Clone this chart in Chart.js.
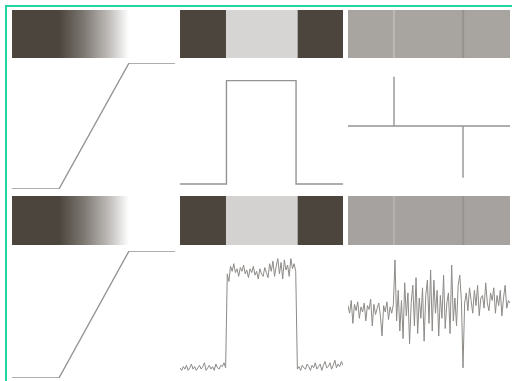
<!DOCTYPE html>
<html>
<head>
<meta charset="UTF-8">
<title>Edge profiles</title>
<style>
  body { margin: 0; width: 512px; height: 381px; background: #fff; position: relative; overflow: hidden; }
  #frame { position: absolute; left: 5px; top: 5px; right: 0; bottom: 0;
           border-top: 2px solid #22d3a3; border-left: 2px solid #22d3a3; }
  canvas { position: absolute; }
</style>
</head>
<body>
<div id="frame"></div>
<script src="https://cdn.jsdelivr.net/npm/chart.js"></script>
<script>
// clean profiles (x in % of panel width)
const rampX = [0, 28.8, 71.8, 100];
const rampY = [0, 0, 100, 100];
const pulseX = [0, 28.5, 28.5, 71.2, 71.2, 100];
const pulseY = [4, 4, 86, 86, 4, 4];
const spikeX = [0, 28.4, 28.4, 28.4, 71, 71, 71, 100];
const spikeY = [0, 0, 39, 0, 0, -41, 0, 0];

// noisy pulse, one value per x unit (0..100)
const noisyPulse = [
  8,6,9,7,10,6,8,11,7,9,6,8,10,7,9,12,6,8,10,7,9,6,11,8,7,10,9,12,8,
  82,76,88,84,90,83,86,80,87,84,89,82,85,79,86,83,88,81,84,78,86,82,80,87,83,79,90,84,92,80,
  88,94,82,91,78,93,85,89,80,94,86,90,84,
  7,9,6,10,8,7,11,9,6,10,8,12,7,9,11,6,10,13,8,9,12,7,10,14,8,11,9,13,10
];
// derivative of the noisy pulse
const noisyDeriv = [
  2,-4,6,-12,3,-2,5,-8,1,-3,4,-10,2,-1,7,-14,3,-5,0,4,-6,-22,2,-3,5,-9,1,-4,3,
  38,-10,14,-18,6,-24,20,-6,12,-28,4,18,-14,24,-20,8,-8,16,-26,10,22,-12,30,-18,22,-4,14,-22,10,-8,
  26,-16,4,12,-20,34,-10,8,-14,18,26,6,-47,
  4,12,-2,16,6,-4,14,2,18,-6,8,10,0,20,4,-2,12,6,16,-4,10,2,14,-6,8,18,0,6,4
];

// image strips as x ranges (first listed is drawn on top)
const stripRamp = [[0, 28.8], [28.8, 71.8], [71.8, 100]];
const stripPulse = [[0, 28], [28, 72], [72, 100]];
const stripDeriv = [[27.9, 28.8], [70.7, 71.5], [0, 100]];

const DARK = '#4b453e';
const LINE = '#969492';

const cols = [[12, 175], [180, 343], [348, 510]];
const rows = [{ strip: [10, 58], plot: [63, 189] }, { strip: [196, 245], plot: [251, 378] }];

function makeCanvas(x, y, w, h) {
  const c = document.createElement('canvas');
  c.width = w; c.height = h;
  c.style.left = x + 'px'; c.style.top = y + 'px';
  document.body.appendChild(c);
  return c;
}

function gradientFill(c) {
  const chart = c.chart;
  if (!chart.chartArea) return DARK;
  const xs = chart.scales.x;
  const g = chart.ctx.createLinearGradient(xs.getPixelForValue(stripRamp[1][0]), 0, xs.getPixelForValue(stripRamp[1][1]), 0);
  g.addColorStop(0, DARK);
  g.addColorStop(0.35, '#7d7771');
  g.addColorStop(0.7, '#bdbab7');
  g.addColorStop(1, '#ffffff');
  return g;
}

function strip(col, row, segs, colors) {
  const [x0, x1] = cols[col];
  const [y0, y1] = rows[row].strip;
  new Chart(makeCanvas(x0, y0, x1 - x0, y1 - y0), {
    type: 'bar',
    data: {
      labels: ['s'],
      datasets: segs.map((s, i) => ({ data: [s], backgroundColor: colors[i], borderWidth: 0 }))
    },
    options: {
      indexAxis: 'y', responsive: false, animation: false,
      datasets: { bar: { barPercentage: 1, categoryPercentage: 1, grouped: false } },
      layout: { padding: 0 },
      plugins: { legend: { display: false }, tooltip: { enabled: false } },
      scales: { x: { display: false, min: 0, max: 100 }, y: { display: false } }
    }
  });
}

function plot(col, row, xs, ys, yMin, yMax, width, color) {
  const [x0, x1] = cols[col];
  const [y0, y1] = rows[row].plot;
  const pad = 2;
  const pts = ys.map((v, i) => ({ x: xs ? xs[i] : i, y: v }));
  new Chart(makeCanvas(x0 - pad, y0 - pad, x1 - x0 + 2 * pad, y1 - y0 + 2 * pad), {
    type: 'line',
    data: { datasets: [{ data: pts, borderColor: color, borderWidth: width, pointRadius: 0, tension: 0 }] },
    options: {
      responsive: false, animation: false,
      layout: { padding: pad },
      plugins: { legend: { display: false }, tooltip: { enabled: false } },
      scales: {
        x: { type: 'linear', display: false, min: 0, max: 100 },
        y: { display: false, min: yMin, max: yMax }
      }
    }
  });
}

// top row: clean signals
strip(0, 0, stripRamp, [DARK, gradientFill, '#ffffff']);
strip(1, 0, stripPulse, [DARK, '#d7d5d3', DARK]);
strip(2, 0, stripDeriv, ['#bbb8b5', '#96928e', '#a8a4a0']);
plot(0, 0, rampX, rampY, 0, 100, 1.4, LINE);
plot(1, 0, pulseX, pulseY, 0, 100, 1.4, LINE);
plot(2, 0, spikeX, spikeY, -50, 50, 1.4, LINE);

// bottom row: noisy signals
strip(0, 1, stripRamp, [DARK, gradientFill, '#ffffff']);
strip(1, 1, stripPulse, [DARK, '#d4d2d0', DARK]);
strip(2, 1, stripDeriv, ['#b4b1ae', '#98948f', '#a5a29f']);
plot(0, 1, rampX, rampY, 0, 100, 1.4, LINE);
plot(1, 1, null, noisyPulse, 0, 100, 1, '#8d8a87');
plot(2, 1, null, noisyDeriv, -55, 45, 1, '#8d8a87');
</script>
</body>
</html>
